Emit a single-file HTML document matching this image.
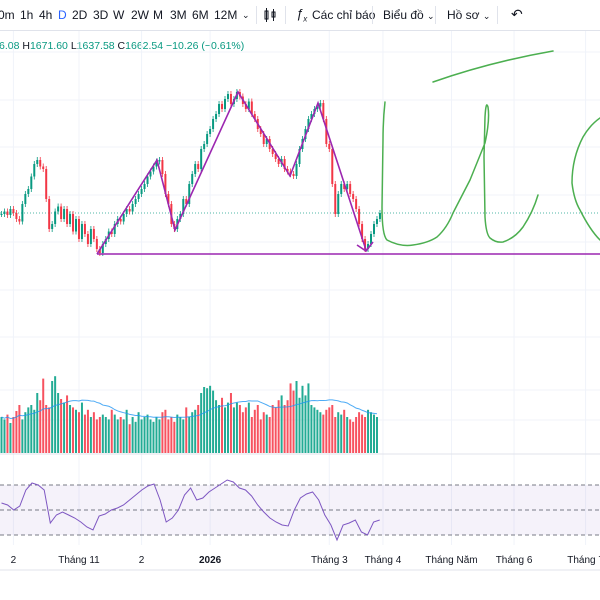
<!DOCTYPE html>
<html><head><meta charset="utf-8"><style>
body{margin:0;width:600px;height:600px;background:#fff;overflow:hidden;font-family:"Liberation Sans","Noto Sans CJK SC",sans-serif}
#tb{position:absolute;left:0;top:0;width:600px;height:30px;border-bottom:1px solid #e0e3eb;font-size:12px;color:#131722}
#tb span{position:absolute;top:8px;white-space:nowrap}
.sep{position:absolute;top:6px;width:1px;height:18px;background:#e0e3eb}
</style></head><body>
<div id="tb">
<span style="left:-2px">0m</span>
<span style="left:20px">1h</span>
<span style="left:39px">4h</span>
<span style="left:58px;color:#2962ff">D</span>
<span style="left:72px">2D</span>
<span style="left:93px">3D</span>
<span style="left:113px">W</span>
<span style="left:131px">2W</span>
<span style="left:153px">M</span>
<span style="left:170px">3M</span>
<span style="left:192px">6M</span>
<span style="left:214px">12M</span>
<span style="left:242px;font-size:9px;top:10px">⌄</span>
<div class="sep" style="left:256px"></div>
<svg style="position:absolute;left:262px;top:7px" width="16" height="16"><rect x="3" y="4" width="3" height="8" fill="none" stroke="#131722"/><line x1="4.5" y1="1" x2="4.5" y2="15" stroke="#131722"/><rect x="10" y="5" width="3" height="5" fill="none" stroke="#131722"/><line x1="11.5" y1="2" x2="11.5" y2="14" stroke="#131722"/></svg>
<div class="sep" style="left:285px"></div>
<span style="left:296px;font-style:italic;font-size:13px;top:6px">ƒ<sub style="font-size:8px">x</sub></span>
<span style="left:312px">Các chỉ báo</span>
<div class="sep" style="left:372px"></div>
<span style="left:383px">Biểu đồ <span style="position:static;font-size:9px">⌄</span></span>
<div class="sep" style="left:435px"></div>
<span style="left:447px">Hồ sơ <span style="position:static;font-size:9px">⌄</span></span>
<div class="sep" style="left:497px"></div>
<span style="left:511px;font-size:14px;top:6px">↶</span>
</div>
<div style="position:absolute;left:-1px;top:40px;font-size:10.5px;color:#131722;white-space:nowrap"><span style="color:#089981">6.08</span> H<span style="color:#089981">1671.60</span> L<span style="color:#089981">1637.58</span> C<span style="color:#089981">1662.54</span> <span style="color:#089981">−10.26 (−0.61%)</span></div>
<svg id="ch" width="600" height="600" style="position:absolute;left:0;top:0"></svg>
<script>
const closes=[1660,1665,1658,1670,1662,1650,1645,1680,1700,1710,1735,1760,1768,1755,1750,1690,1630,1640,1665,1675,1650,1670,1640,1660,1625,1650,1610,1640,1620,1600,1630,1610,1590,1582,1600,1610,1625,1620,1640,1650,1645,1660,1670,1665,1680,1690,1700,1710,1720,1735,1745,1755,1765,1768,1740,1700,1680,1640,1630,1650,1660,1690,1680,1720,1740,1760,1750,1790,1800,1820,1830,1850,1860,1880,1870,1890,1900,1880,1890,1904,1895,1880,1870,1885,1860,1850,1830,1820,1800,1810,1790,1780,1770,1760,1770,1750,1745,1740,1736,1760,1790,1810,1830,1850,1860,1870,1875,1882,1850,1800,1790,1720,1660,1700,1720,1710,1720,1700,1690,1670,1640,1610,1590,1600,1620,1640,1650,1662];
const volumes=[30,28,32,25,30,35,40,28,34,38,40,36,50,44,62,40,38,60,64,50,45,42,48,40,38,36,34,42,32,36,30,34,28,30,32,30,28,36,32,28,30,28,36,24,30,26,34,28,30,32,28,26,30,28,34,36,28,30,26,32,30,28,38,30,34,36,40,50,55,54,56,52,44,40,46,38,42,50,38,42,40,34,38,42,30,36,40,28,34,32,30,40,38,44,48,40,44,58,52,60,46,56,48,58,40,38,36,34,32,36,38,40,30,34,32,36,30,28,26,30,34,32,30,36,34,32,30];
const rsi=[55.6,54,50,53.2,66,71.6,70,66,39.6,46,48.4,46,43.6,40.4,36.4,34,45.2,46.8,50,51.6,54,58,62,66,69.2,70.8,58,40.4,43.6,50,62,67.6,58,59.6,64.4,67.6,70.8,74,72.4,67.6,66,61.2,54,48.4,43.6,40.4,38,37.2,50,59.6,62.8,64.4,58,46,38,26,38,39.6,42,32.4,30,40.4,42];
const tickLabels=["2","Tháng 11","2","2026","Tháng 3","Tháng 4","Tháng Năm","Tháng 6","Tháng 7"];
const tickIdx=[4,26,47,70,110,128,151,172,196];
const NS="http://www.w3.org/2000/svg",svg=document.getElementById('ch');
function el(t,a,p){const e=document.createElementNS(NS,t);for(const k in a)e.setAttribute(k,a[k]);(p||svg).appendChild(e);return e;}
const xOf=i=>1.5+i*2.98;
const yP=p=>213-(p-1662)*0.5;
const yV=v=>453-v*1.2;
const yR=r=>510-(r-50)*1.25;
[52,100,147,195,242,290,337,390,420].forEach(y=>{const g=el('line',{x1:0,x2:600,y1:y,y2:y,stroke:'#f0f3fa'});});
tickIdx.forEach((ti,k)=>{const x=xOf(ti);const g=el('line',{x1:x,x2:x,y1:31,y2:545,stroke:'#f0f3fa'});
const t=el('text',{x:x,y:563,'font-size':'10','text-anchor':'middle',fill:'#131722','font-weight':tickLabels[k]=='2026'?'bold':'normal'});t.textContent=tickLabels[k];});
el('line',{x1:0,x2:600,y1:454,y2:454,stroke:'#e0e3eb'});
el('line',{x1:0,x2:600,y1:570,y2:570,stroke:'#e0e3eb'});
const band=el('rect',{x:0,y:yR(70),width:600,height:yR(30)-yR(70),fill:'#7e57c2','fill-opacity':0.08});

[70,50,30].forEach(v=>{const l=el('line',{x1:0,x2:600,y1:yR(v),y2:yR(v),stroke:'#787b86','stroke-dasharray':'4,3'});});
el('line',{x1:0,x2:600,y1:yP(closes[closes.length-1]),y2:yP(closes[closes.length-1]),stroke:'#089981','stroke-dasharray':'1,2','stroke-opacity':0.7});
closes.forEach((c,i)=>{const o=i?closes[i-1]:c;const up=c>=o;const col=up?'#089981':'#f23645';const x=xOf(i);
const hi=Math.max(o,c)+6,lo=Math.min(o,c)-6;
const w=el('line',{x1:x,x2:x,y1:yP(hi),y2:yP(lo),stroke:col,'stroke-width':0.8});

const b=el('rect',{x:x-1,y:Math.min(yP(o),yP(c)),width:2,height:Math.max(1,Math.abs(yP(o)-yP(c))),fill:col});

const v=el('rect',{x:x-1,y:yV(volumes[i]),width:2,height:453-yV(volumes[i]),fill:up?'#22ab94':'#f7525f'});
});
let pts=[];volumes.forEach((v,i)=>{const s=volumes.slice(Math.max(0,i-19),i+1);pts.push(xOf(i)+','+yV(s.reduce((a,b)=>a+b,0)/s.length));});
const ma=el('polyline',{points:pts.join(' '),fill:'none',stroke:'#2196f3','stroke-width':1,'stroke-opacity':0.8});

const rl=el('polyline',{points:rsi.map((r,i)=>xOf(i*2.047)+','+yR(r)).join(' '),fill:'none',stroke:'#7e57c2','stroke-width':1});

const zz=el('polyline',{points:'97,254 157,160 175,230 238,92 290,176 318,103 366,250',fill:'none',stroke:'#9c27b0','stroke-width':1.6});

el('polyline',{points:'357,245 366,251 373,242',fill:'none',stroke:'#9c27b0','stroke-width':1.6});
const hl=el('line',{x1:97,x2:600,y1:254,y2:254,stroke:'#9c27b0','stroke-width':1.6});

const gs={fill:'none',stroke:'#4caf50','stroke-width':1.5,'stroke-linecap':'round','stroke-linejoin':'round'};
[['M433,82 Q490,62 553,51','handwriting-stroke-top'],
['M385,102 Q383,120 383,140 L382,207 Q382,235 387,240 Q400,247 413,245 Q428,243 437,237 Q447,228 453,213 L470,180 L485,143 Q490,120 488,107 Q486,100 485,117 L484,157 L485,217 Q486,234 490,238 Q496,243 503,242 Q515,238 523,227 Q533,212 538,195','handwriting-stroke-lu'],
['M600,118 Q590,125 583,137 Q572,158 572,183 Q574,200 580,210 Q590,230 600,240','handwriting-stroke-c']].forEach(([d,n])=>{const p=el('path',Object.assign({d:d},gs));});
</script>
</body></html>
